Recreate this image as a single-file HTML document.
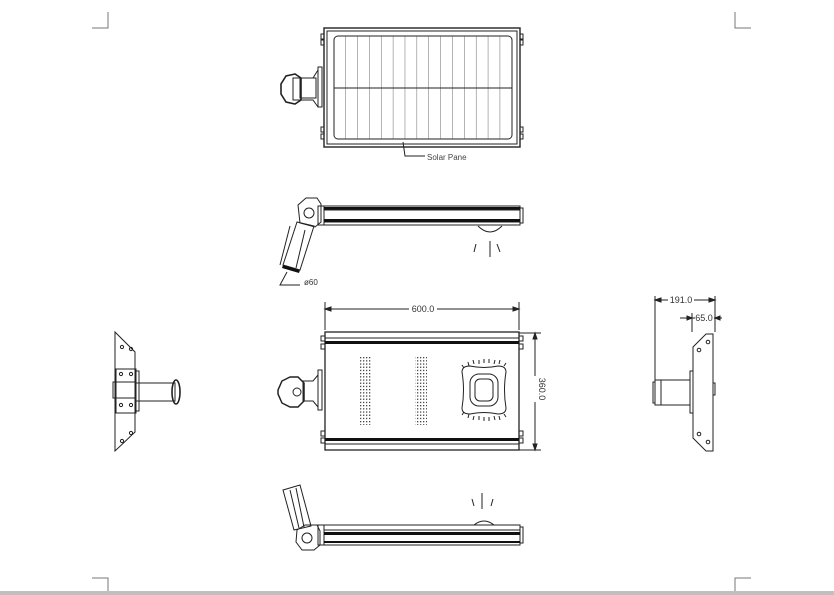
<!DOCTYPE html>
<html><head><meta charset="utf-8"><style>html,body{margin:0;padding:0;background:#fff}svg{display:block}</style></head><body>
<svg width="834" height="595" viewBox="0 0 834 595" xmlns="http://www.w3.org/2000/svg" font-family="Liberation Sans, sans-serif">
<defs>
<pattern id="dots" x="360" y="357" width="3" height="3.2" patternUnits="userSpaceOnUse"><rect width="1.3" height="1.3" fill="#444"/></pattern>
<pattern id="cells" x="334" y="36" width="11.87" height="200" patternUnits="userSpaceOnUse"><line x1="11.87" y1="0" x2="11.87" y2="200" stroke="#444" stroke-width="0.8"/></pattern>
</defs>
<g fill="none" stroke="#777" stroke-width="1">
<path d="M92 28H108V12M735 12V28H751M92 578H108V595M735 595V578H751"/>
</g>
<rect x="0" y="591" width="834" height="4" fill="#c0c0c0"/>
<g fill="none" stroke="#222" stroke-width="1">
<!-- TOP VIEW -->
<rect x="324" y="28" width="196" height="119" stroke-width="1.4"/>
<rect x="327" y="31" width="190" height="113"/>
<rect x="334" y="36" width="178" height="103" rx="4"/>
<rect x="334" y="36" width="172" height="103" fill="url(#cells)" stroke="none"/>
<line x1="334" y1="88" x2="512" y2="88"/>
<path d="M321 34h3v5h-3zM321 40h3v5h-3zM520 34h3v5h-3zM520 40h3v5h-3zM321 127h3v5h-3zM321 134h3v5h-3zM520 127h3v5h-3zM520 134h3v5h-3z"/>
<path d="M322 67v40h-4v-40zM318 70l-5 8h-20v22h20l5 7"/>
<path d="M295 74l-9 2-5 8v10l5 8 9 2 6-4v-22z" stroke-width="1.6"/>
<rect x="300" y="78" width="16" height="20"/>
<path d="M403 142l2 14h20"/>
</g>
<text x="427" y="160" font-size="8" fill="#444">Solar Pane</text>
<!-- SIDE VIEW 1 -->
<g fill="none" stroke="#222" stroke-width="1">
<rect x="324" y="206" width="196" height="19"/>
<line x1="324" y1="210" x2="520" y2="210"/>
<line x1="324" y1="222" x2="520" y2="222"/>
<rect x="520" y="208" width="3" height="15"/>
<rect x="318" y="206" width="6" height="19"/>
<path d="M478 226q12 12 24 0"/>
<path d="M476 244l-2 8M490 241v16M497 244l3 8"/>
<path d="M298 205l8-7h11l4 6v18l-6 5l-15-4z"/>
<circle cx="309" cy="213" r="5"/>
<path d="M297 222l-14 43l17 5l14-44z"/>
<path d="M290 226l-10 39M305 230l-9 38"/>
<path d="M287 272l-7 13h20"/>
</g>
<rect x="324" y="207" width="196" height="2.5" fill="#111"/>
<rect x="324" y="219" width="196" height="3" fill="#111"/>
<path d="M283 265l17 5l-1 3l-17-5z" fill="#111"/>
<text x="304" y="285" font-size="8" fill="#333">ø60</text>
<!-- FRONT VIEW -->
<g fill="none" stroke="#222" stroke-width="1">
<path d="M325 302v28M519 302v28M325 309h194M519 333h22M519 450h22M535 333v117"/>
<path d="M325 309l6-2v4zM519 309l-6-2v4zM535 333l-2 6h4zM535 450l-2-6h4z" fill="#222"/>
<rect x="325" y="332" width="194" height="118" stroke-width="1.3"/>
<line x1="325" y1="338" x2="519" y2="338"/>
<line x1="325" y1="444" x2="519" y2="444"/>
<path d="M321 336h4v5h-4zM321 344h4v5h-4zM519 336h4v5h-4zM519 344h4v5h-4zM321 431h4v5h-4zM321 438h4v5h-4zM519 431h4v5h-4zM519 438h4v5h-4z"/>
<path d="M322 370v40h-4v-40zM318 375l-5 6h-10v20h10l5 6"/>
<path d="M290 377l-8 4l-4 9v4l4 9l8 4h8l6-6v-18l-6-6z" stroke-width="1.5"/>
<circle cx="297" cy="392" r="4"/>
<path d="M462 372q0-6 8-6q14 3 28 0q8 0 8 6q-3 18 0 36q0 6-8 6q-14-3-28 0q-8 0-8-6q3-18 0-36z"/>
<rect x="470" y="374" width="28" height="32" rx="9"/>
<rect x="475" y="379" width="18" height="22" rx="5"/>
<path d="M464 368l-2-3M469 366l-1-4M474 364l-1-4M479 364v-4M484 363v-4M489 363v-4M494 364l1-4M499 364l1-4M504 366l2-3M464 412l-2 3M469 414l-1 4M474 416l-1 4M479 416v4M484 417v4M489 417v4M494 416l1 4M499 416l1 4M504 414l2 3"/>
</g>
<rect x="325" y="341" width="194" height="3" fill="#111"/>
<rect x="325" y="438" width="194" height="3" fill="#111"/>
<rect x="360" y="357" width="12" height="68" fill="url(#dots)"/>
<rect x="415" y="357" width="12" height="68" fill="url(#dots)"/>
<rect x="409" y="304" width="28" height="9" fill="#fff"/>
<text x="423" y="312" font-size="9" fill="#333" text-anchor="middle">600.0</text>
<rect x="531" y="376" width="9" height="26" fill="#fff"/>
<text x="0" y="0" font-size="9" fill="#333" text-anchor="middle" transform="translate(539,389) rotate(90)">360.0</text>
<!-- RIGHT SIDE VIEW -->
<g fill="none" stroke="#222" stroke-width="1">
<path d="M655 296v84M715 296v36M692 313v19M655 300h60M680 318h42"/>
<path d="M655 300l6-2v4zM715 300l-6-2v4zM692 318l-5-2v4zM715 318l5-2v4z" fill="#222"/>
<path d="M693 347l13-13h7v117h-7l-13-13z"/>
<path d="M713 383h2v12h-2"/>
<rect x="690" y="371" width="3" height="42"/>
<rect x="655" y="380" width="35" height="25"/>
<path d="M655 382h-2v21h2M661 380v25"/>
<circle cx="708" cy="342" r="1.8"/><circle cx="699" cy="350" r="1.8"/><circle cx="699" cy="434" r="1.8"/><circle cx="708" cy="442" r="1.8"/>
</g>
<rect x="668" y="297" width="26" height="8" fill="#fff"/>
<text x="681" y="303" font-size="9" fill="#333" text-anchor="middle">191.0</text>
<rect x="695" y="313" width="19" height="8" fill="#fff"/>
<text x="704" y="321" font-size="9" fill="#333" text-anchor="middle">65.0</text>
<!-- LEFT SIDE VIEW -->
<g fill="none" stroke="#222" stroke-width="1">
<path d="M115 332l20 20v80l-20 19z"/>
<rect x="116" y="369" width="20" height="44"/>
<rect x="113" y="382" width="22" height="16"/>
<rect x="135" y="383" width="40" height="18"/>
<ellipse cx="176" cy="392" rx="4" ry="12" stroke-width="1.6"/>
<path d="M136 371h3v40h-3"/>
<circle cx="122" cy="347" r="1.6"/><circle cx="131" cy="349" r="1.6"/><circle cx="121" cy="374" r="1.6"/><circle cx="131" cy="374" r="1.6"/><circle cx="121" cy="405" r="1.6"/><circle cx="131" cy="405" r="1.6"/><circle cx="131" cy="433" r="1.6"/><circle cx="122" cy="441" r="1.6"/>
</g>
<!-- BOTTOM VIEW -->
<g fill="none" stroke="#222" stroke-width="1">
<rect x="324" y="525" width="196" height="20"/>
<line x1="324" y1="530" x2="520" y2="530"/>
<line x1="324" y1="542" x2="520" y2="542"/>
<rect x="520" y="527" width="3" height="16"/>
<rect x="318" y="525" width="6" height="20"/>
<path d="M474 525q10-8 20 0"/>
<path d="M472 499l2 7M482 493v16M493 499l-2 7"/>
<path d="M297 530l8-5h12l3 6v14l-6 5h-12l-6-8z"/>
<circle cx="307" cy="538" r="5"/>
<path d="M283 490l17-5l11 41l-17 4z"/>
<path d="M290 490l9 38M296 488l8 39"/>
</g>
<rect x="324" y="532" width="196" height="3" fill="#111"/>
<rect x="324" y="541" width="196" height="2" fill="#111"/>
</svg>
</body></html>
